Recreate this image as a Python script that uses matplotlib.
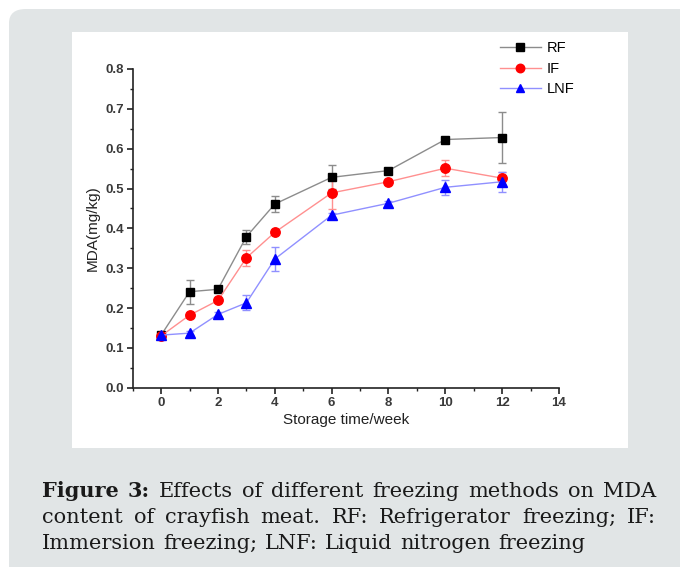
"""
MDA content of crayfish meat under different freezing methods (Figure 3 reproduction).
"""

import matplotlib
matplotlib.use("Agg")
from matplotlib import pyplot as plt
from matplotlib.patches import FancyBboxPatch, Rectangle
from matplotlib.lines import Line2D
import numpy as np

plt.rcParams["font.family"] = "Liberation Sans"

# ---------------
# Data

weeks = [0, 1, 2, 3, 4, 6, 8, 10, 12]

rf_mean = [0.132, 0.241, 0.247, 0.379, 0.461, 0.528, 0.545, 0.623, 0.628]
rf_err = [0.004, 0.030, 0.005, 0.018, 0.020, 0.030, 0.006, 0.006, 0.063]

if_mean = [0.130, 0.182, 0.219, 0.326, 0.390, 0.489, 0.517, 0.551, 0.526]
if_err = [0.004, 0.005, 0.005, 0.020, 0.005, 0.040, 0.006, 0.020, 0.015]

lnf_mean = [0.132, 0.137, 0.184, 0.213, 0.323, 0.433, 0.463, 0.503, 0.517]
lnf_err = [0.004, 0.005, 0.005, 0.019, 0.029, 0.006, 0.006, 0.019, 0.025]

labels = ["RF", "IF", "LNF"]

caption_bold = "Figure 3:"
caption_lines = [
    "Effects of different freezing methods on MDA",
    "content of crayfish meat. RF: Refrigerator freezing; IF:",
    "Immersion freezing; LNF: Liquid nitrogen freezing",
]

W, H = 680, 567
fig = plt.figure(figsize=(W / 100, H / 100), dpi=100)
fig.patch.set_facecolor("white")

# gray rounded card and white chart panel
card = FancyBboxPatch((9 / W, -30 / H), 700 / W, (H - 9 + 30) / H,
                      boxstyle="round,pad=0,rounding_size=0.025",
                      transform=fig.transFigure, facecolor="#e1e5e6",
                      edgecolor="none", zorder=0)
fig.patches.append(card)
panel = Rectangle((72 / W, 1 - 448 / H), (628 - 72) / W, (448 - 32) / H,
                  transform=fig.transFigure, facecolor="white",
                  edgecolor="none", zorder=0.5)
fig.patches.append(panel)

ax = fig.add_axes([132.7 / W, 1 - 387.7 / H, (559 - 132.7) / W, (387.7 - 69) / H])
ax.set_facecolor("none")
ax.set_zorder(2)

styles = [
    (rf_mean, rf_err, "s", "black", "#8c8c8c", 5.8),
    (if_mean, if_err, "o", "#ff0000", "#ff9090", 6.8),
    (lnf_mean, lnf_err, "^", "#0000ff", "#9090ff", 6.8),
]
handles = []
for (mean, err, mk, mc, lc, ms), lab in zip(styles, labels):
    ax.errorbar(weeks, mean, yerr=err, fmt="-", color=lc, lw=1.0,
                elinewidth=1.0, capsize=3, capthick=1.0, marker=mk,
                markersize=ms, markerfacecolor=mc, markeredgecolor=mc)
    handles.append(Line2D([], [], color=lc, lw=1.0, marker=mk,
                          markersize=ms * 0.9, markerfacecolor=mc,
                          markeredgecolor=mc, label=lab))

ax.set_xlim(-1, 14)
ax.set_ylim(0, 0.8)
ax.set_xticks(np.arange(0, 15, 2))
ax.set_xticks(np.arange(-1, 14, 2), minor=True)
ax.set_yticks(np.arange(0, 0.81, 0.1))
ax.set_yticks(np.arange(0.05, 0.8, 0.1), minor=True)
ax.set_xticklabels([str(v) for v in range(0, 15, 2)], fontsize=9.5,
                   fontweight="bold", color="#3a3a3a")
ax.set_yticklabels(["%.1f" % v for v in np.arange(0, 0.81, 0.1)], fontsize=9.5,
                   fontweight="bold", color="#3a3a3a")

for s in ["top", "right"]:
    ax.spines[s].set_visible(False)
for s in ["left", "bottom"]:
    ax.spines[s].set_linewidth(1.2)
    ax.spines[s].set_color("#222222")

ax.tick_params(which="major", direction="out", length=4, width=1.2,
               colors="#222222", labelcolor="#3a3a3a", pad=2.5)
ax.tick_params(which="minor", direction="out", length=2.5, width=1.0,
               colors="#222222")

ax.set_xlabel("Storage time/week", fontsize=11, color="#222222", labelpad=3)
ax.set_ylabel("MDA(mg/kg)", fontsize=11, color="#222222", labelpad=4)

leg = ax.legend(handles=handles, loc="upper left",
                bbox_to_anchor=((494 - 132.7) / (559 - 132.7), 1.105),
                frameon=False, prop={"size": 10.5},
                handlelength=2.8, labelspacing=0.45, handletextpad=0.4,
                borderaxespad=0)

# caption, justified on first two lines
x_left, x_right = 42 / W, 656 / W
ys = [1 - 497 / H, 1 - 523 / H, 1 - 549 / H]
cap_font = {"family": "DejaVu Serif", "size": 15, "color": "#1a1a1a"}
fig.canvas.draw()
renderer = fig.canvas.get_renderer()


def width_of(txt):
    bb = txt.get_window_extent(renderer=renderer)
    return bb.width / W


probe = fig.text(0, 0.5, "n", **cap_font)
space = width_of(probe) * 0.55
probe.remove()

for i, line in enumerate(caption_lines):
    words = line.split(" ")
    items = []
    if i == 0:
        items.append((caption_bold.split(" ")[0], "bold"))
        items.append((caption_bold.split(" ")[1], "bold"))
    items += [(w, "normal") for w in words]
    texts = [fig.text(0, ys[i], w, fontweight=fw, va="baseline", **cap_font)
             for w, fw in items]
    widths = [width_of(t) for t in texts]
    if i < 2:
        gap = (x_right - x_left - sum(widths)) / (len(texts) - 1)
    else:
        gap = space
    x = x_left
    for t, w in zip(texts, widths):
        t.set_x(x)
        x += w + gap

fig.savefig("out.png", dpi=100)
